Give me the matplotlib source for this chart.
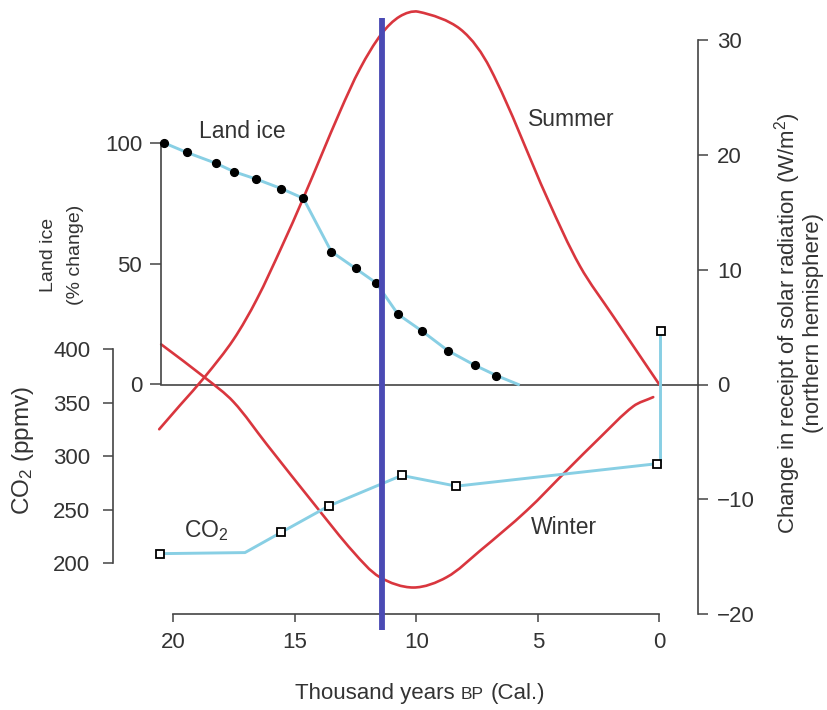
import matplotlib
matplotlib.use('Agg')
import matplotlib.pyplot as plt
from matplotlib.path import Path
from matplotlib.patches import PathPatch

plt.rcParams['font.family'] = ['Liberation Sans', 'DejaVu Sans']
plt.rcParams['mathtext.fontset'] = 'custom'
plt.rcParams['mathtext.rm'] = 'Liberation Sans'
plt.rcParams['mathtext.it'] = 'Liberation Sans:italic'
plt.rcParams['mathtext.bf'] = 'Liberation Sans:bold'
plt.rcParams['axes.unicode_minus'] = True

# ---------------- data (thousand years BP) ----------------
years_ice = [20.4, 19.45, 18.25, 17.5, 16.6, 15.55, 14.65, 13.5, 12.5, 11.65, 10.75, 9.75, 8.7, 7.6, 6.7]
land_ice = [100, 96, 91.5, 88, 85, 81, 77, 55, 48, 42, 29, 22, 14, 8, 3.7]
ice_line_years = years_ice + [5.8]
ice_line_values = land_ice + [0]

years_co2 = [20.55, 15.55, 13.6, 10.6, 8.35, 0.08, -0.05]
co2 = [209, 229, 253.5, 282, 272, 293, 417]
co2_line_years = [20.55, 17.05, 15.55, 13.6, 10.6, 8.35, 0.08, -0.05, -0.05]
co2_line_values = [209, 210, 229, 253.5, 282, 272, 293, 295, 417]

years_summer = [20.58, 19.72, 18.69, 17.53, 16.57, 15.54, 14.64, 13.14, 12.3, 11.42,
                10.67, 9.92, 8.2, 6.97, 4.58, 3.26, 1.88, 0.0]
summer = [-3.9, -1.8, 0.7, 3.9, 7.4, 12.0, 16.3, 23.8, 27.6, 30.6,
          32.1, 32.5, 31.0, 27.6, 16.1, 10.3, 5.9, 0.0]

years_winter = [20.5, 18.7, 17.53, 16.16, 14.1, 12.59, 11.5, 10.12, 8.75, 7.38, 5.46, 3.81, 2.43, 1.07, 0.25]
winter = [3.5, 0.6, -1.5, -5.2, -10.7, -14.6, -16.8, -17.7, -16.8, -14.5, -11.0, -7.5, -4.6, -1.9, -1.1]

event_year = 11.4

x_ticks = [20, 15, 10, 5, 0]
solar_ticks = [-20, -10, 0, 10, 20, 30]
ice_ticks = [0, 50, 100]
co2_ticks = [200, 250, 300, 350, 400]

# ---------------- layout (pixels) ----------------
W, H = 828, 710
fig = plt.figure(figsize=(W / 100, H / 100), dpi=100)

AX_L, AX_R, AX_T, AX_B = 100, 720, 10, 614.0
X20, X0 = 173.3, 659.3


def t_at(px):
    return 20 - (px - X20) / (X0 - X20) * 20


def ylim_for(v1, p1, v2, p2):
    s = (v2 - v1) / (p1 - p2)
    return (v1 - (AX_B - p1) * s, v1 + (p1 - AX_T) * s)


def smooth_path(axis, xs, ys):
    """Smooth curve through the given points: chord-length cubic Hermite drawn as Bezier segments."""
    pts = list(zip(xs, ys))
    disp = axis.transData.transform(pts)
    n = len(pts)
    L = [((disp[i + 1][0] - disp[i][0]) ** 2 + (disp[i + 1][1] - disp[i][1]) ** 2) ** 0.5
         for i in range(n - 1)]

    def tangent(i):
        if i == 0:
            return ((pts[1][0] - pts[0][0]) / L[0], (pts[1][1] - pts[0][1]) / L[0])
        if i == n - 1:
            return ((pts[-1][0] - pts[-2][0]) / L[-1], (pts[-1][1] - pts[-2][1]) / L[-1])
        d = L[i - 1] + L[i]
        return ((pts[i + 1][0] - pts[i - 1][0]) / d, (pts[i + 1][1] - pts[i - 1][1]) / d)

    verts = [pts[0]]
    codes = [Path.MOVETO]
    for i in range(n - 1):
        m1, m2 = tangent(i), tangent(i + 1)
        c1 = (pts[i][0] + m1[0] * L[i] / 3, pts[i][1] + m1[1] * L[i] / 3)
        c2 = (pts[i + 1][0] - m2[0] * L[i] / 3, pts[i + 1][1] - m2[1] * L[i] / 3)
        verts += [c1, c2, pts[i + 1]]
        codes += [Path.CURVE4] * 3
    return Path(verts, codes)


rect = [AX_L / W, 1 - AX_B / H, (AX_R - AX_L) / W, (AX_B - AX_T) / H]
ax = fig.add_axes(rect)
ax_ice = fig.add_axes(rect)
ax_co2 = fig.add_axes(rect)

TXT = '#333333'
AXC = '#444444'
RED = '#d9363e'
LBLUE = '#88cfe4'
VBLUE = '#4a4ab4'
FS = 16

for a, z in ((ax, 1), (ax_ice, 2), (ax_co2, 3)):
    a.set_xlim(t_at(AX_L), t_at(AX_R))
    a.patch.set_visible(False)
    a.set_zorder(z)
    for s in a.spines.values():
        s.set_visible(False)
        s.set_color(AXC)
        s.set_linewidth(1.2)

ax.set_ylim(*ylim_for(0, 384.5, 30, 40.4))
ax_ice.set_ylim(*ylim_for(0, 384.5, 100, 142.7))
ax_co2.set_ylim(*ylim_for(200, 563.3, 400, 349.0))

# solar (right) axis
t_right = t_at(698.3)
ax.spines['right'].set_visible(True)
ax.spines['right'].set_position(('data', t_right))
ax.spines['right'].set_bounds(-20, 30)
ax.yaxis.tick_right()
ax.set_yticks(solar_ticks)
ax.tick_params(axis='y', direction='out', length=7.5, width=1.1, pad=6,
               labelsize=FS, colors=AXC, labelcolor=TXT)
# x axis
ax.spines['bottom'].set_visible(True)
ax.spines['bottom'].set_bounds(0, 20)
ax.set_xticks(x_ticks)
ax.set_xticklabels([str(v) for v in x_ticks])
ax.tick_params(axis='x', direction='out', length=6, width=1.1, pad=7,
               labelsize=FS, colors=AXC, labelcolor=TXT)

# land ice axis
t_ice = t_at(161.0)
ax_ice.spines['left'].set_visible(True)
ax_ice.spines['left'].set_position(('data', t_ice))
ax_ice.spines['left'].set_bounds(0, 100)
ax_ice.set_yticks(ice_ticks)
ax_ice.tick_params(axis='y', direction='out', length=8, width=1.1, pad=5.5,
                   labelsize=FS, colors=AXC, labelcolor=TXT)
ax_ice.set_xticks([])

# CO2 axis
t_co2 = t_at(112.7)
ax_co2.spines['left'].set_visible(True)
ax_co2.spines['left'].set_position(('data', t_co2))
ax_co2.spines['left'].set_bounds(200, 400)
ax_co2.set_yticks(co2_ticks)
ax_co2.tick_params(axis='y', direction='out', length=7, width=1.1, pad=9,
                   labelsize=FS, colors=AXC, labelcolor=TXT)
ax_co2.set_xticks([])

# zero line
ax.plot([t_ice, t_right], [0, 0], color=AXC, lw=1.2, clip_on=False, zorder=1)

# solar curves (smooth)
for xs, ys in ((years_summer, summer), (years_winter, winter)):
    ax.add_patch(PathPatch(smooth_path(ax, xs, ys), facecolor='none', edgecolor=RED,
                           lw=1.9, zorder=2, clip_on=False, capstyle='round', joinstyle='round'))

# land ice
ax_ice.plot(ice_line_years, ice_line_values, color=LBLUE, lw=2.1, solid_joinstyle='round', zorder=2)
ax_ice.plot(years_ice, land_ice, linestyle='none', marker='o', ms=5.6, color='black', zorder=3)

# CO2
ax_co2.plot(co2_line_years, co2_line_values, color=LBLUE, lw=2.1, zorder=2, clip_on=False)
ax_co2.plot(years_co2, co2, linestyle='none', marker='s', ms=6, mfc='white', mec='black',
            mew=1.3, zorder=3, clip_on=False)

# event line
ax_co2.plot([event_year, event_year],
            [(AX_B - 630) / (AX_B - AX_T), (AX_B - 18) / (AX_B - AX_T)],
            transform=ax_co2.get_xaxis_transform(), color=VBLUE, lw=4.2,
            solid_capstyle='butt', clip_on=False, zorder=10)


def fxy(x, y):
    return x / W, 1 - y / H


# in-plot labels
fig.text(*fxy(242, 131), 'Land ice', fontsize=16.5, color=TXT, ha='center', va='center')
fig.text(*fxy(571, 120), 'Summer', fontsize=16.5, color=TXT, ha='center', va='center')
fig.text(*fxy(564, 527), 'Winter', fontsize=16.5, color=TXT, ha='center', va='center')
fig.text(*fxy(206, 531), r'CO$_{\mathrm{2}}$', fontsize=16.5, color=TXT, ha='center', va='center')

# axis labels
fig.text(*fxy(62, 255), 'Land ice\n(% change)', fontsize=14, color=TXT, rotation=90,
         ha='center', va='center', multialignment='center', linespacing=1.75)
fig.text(*fxy(23, 450), r'CO$_{\mathrm{2}}$ (ppmv)', fontsize=17.5, color=TXT, rotation=90,
         ha='center', va='center')
fig.text(*fxy(798, 323), 'Change in receipt of solar radiation (W/m$^{\\mathrm{2}}$)\n(northern hemisphere)',
         fontsize=16, color=TXT, rotation=90, ha='center', va='center',
         multialignment='center', linespacing=1.05)

# x label with small-caps BP
fig.canvas.draw()
r = fig.canvas.get_renderer()
parts = [('Thousand years', 16), ('BP', 12.5), ('(Cal.)', 16)]
texts = [fig.text(0, 0, s, fontsize=f, color=TXT, ha='left', va='baseline') for s, f in parts]
gap = 0.278 * 16 * 100 / 72
widths = [t.get_window_extent(r).width for t in texts]
total = sum(widths) + gap * (len(widths) - 1)
x = 420 - total / 2
for t, w in zip(texts, widths):
    t.set_position(fxy(x, 699))
    x += w + gap

fig.savefig('out.png', dpi=100)
